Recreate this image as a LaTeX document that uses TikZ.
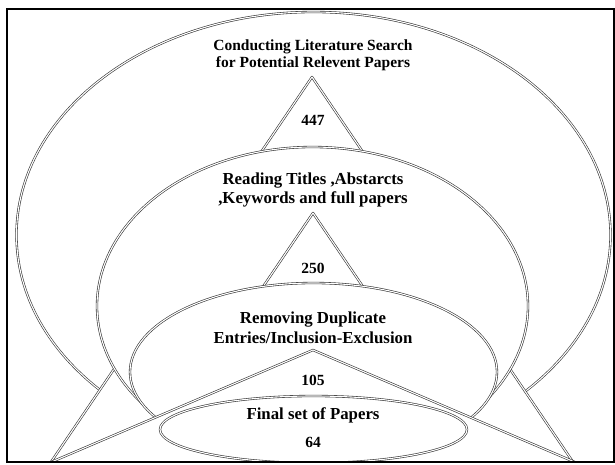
\documentclass[tikz,border=0pt]{standalone}
\usepackage{fontspec}
\setmainfont{Liberation Serif}
\begin{document}
\begin{tikzpicture}[x=1pt,y=-1pt,
  shapeline/.style={draw=black!80, line width=0.6pt, double=white,
    double distance=1.1pt, fill=white, line join=round},
  headlabel/.style={align=center, inner sep=0pt, font=\bfseries\fontsize{15.5}{16.5}\selectfont},
  steplabel/.style={align=center, inner sep=0pt, font=\bfseries\fontsize{16.8}{19.8}\selectfont},
  countlabel/.style={inner sep=0pt, font=\bfseries\fontsize{15.5}{16}\selectfont}]
\useasboundingbox (0,0) rectangle (615,465);
\fill[white] (0,0) rectangle (615,465);

\begin{scope}
  \clip (7,9) rectangle (614,462);
  % outermost stage and its funnel
  \draw[shapeline] (313.5,235) ellipse [x radius=297, y radius=223];
  \draw[shapeline] (312,77) -- (42.2,475) -- (581.8,475) -- cycle;
  % second stage
  \draw[shapeline] (312.5,306) ellipse [x radius=215.5, y radius=159];
  \draw[shapeline] (313,213) -- (135.4,475) -- (490.6,475) -- cycle;
  % third stage
  \draw[shapeline] (313.5,372) ellipse [x radius=183.5, y radius=89];
  \draw[shapeline] (313,350) -- (21,475) -- (605,475) -- cycle;
  % final stage
  \draw[shapeline] (313.5,429.5) ellipse [x radius=153.5, y radius=33.5];
\end{scope}

\node[headlabel] (search) at (313,55.5) {Conducting Literature Search\\for Potential Relevent Papers};
\node[countlabel] (n447) at (313,120) {447};
\node[steplabel] (reading) at (313,190) {Reading Titles ,Abstarcts\\,Keywords and full papers};
\node[countlabel] (n250) at (313,268) {250};
\node[steplabel] (removing) at (313,327.5) {Removing Duplicate\\Entries/Inclusion-Exclusion};
\node[countlabel] (n105) at (313,380) {105};
\node[steplabel] (final) at (313,415) {Final set of Papers};
\node[countlabel] (n64) at (313,442) {64};

% picture frame
\draw[line width=2pt, black] (7,9) rectangle (614,462);
\end{tikzpicture}
\end{document}
